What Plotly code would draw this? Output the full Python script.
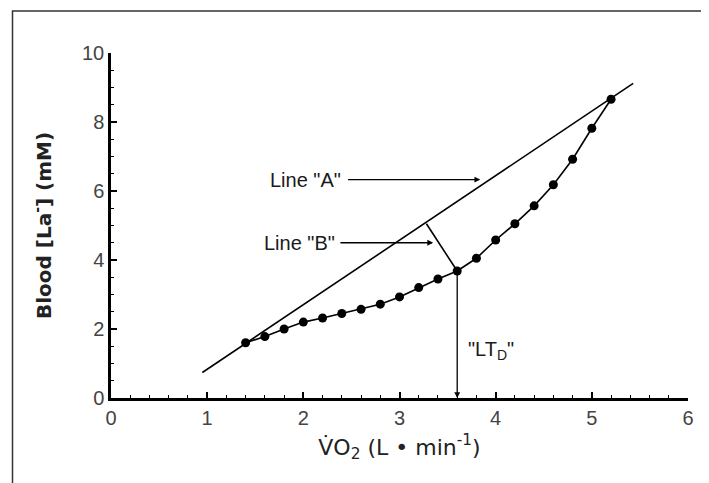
import plotly.graph_objects as go

# Data
vo2 = [1.4, 1.6, 1.8, 2.0, 2.2, 2.4, 2.6, 2.8, 3.0, 3.2, 3.4, 3.6, 3.8, 4.0, 4.2, 4.4, 4.6, 4.8, 5.0, 5.2]
lactate = [1.6, 1.78, 2.0, 2.2, 2.32, 2.45, 2.57, 2.72, 2.93, 3.2, 3.45, 3.68, 4.05, 4.58, 5.05, 5.57, 6.18, 6.92, 7.82, 8.66]
line_a_x = [0.95, 5.43]
line_a_y = [0.74, 9.12]
line_b_x = [3.28, 3.6]
line_b_y = [5.05, 3.68]
ltd_x = [3.6, 3.6]
ltd_y = [3.68, 0.0]
x_ticks = [0, 1, 2, 3, 4, 5, 6]
y_ticks = [0, 2, 4, 6, 8, 10]

SANS = "Liberation Sans"
WIDE = "DejaVu Sans"
NB = "\u00a0"

fig = go.Figure()
fig.add_trace(go.Scatter(x=line_a_x, y=line_a_y, mode="lines",
                         line=dict(color="black", width=1.6), showlegend=False))
fig.add_trace(go.Scatter(x=line_b_x, y=line_b_y, mode="lines",
                         line=dict(color="black", width=1.6), showlegend=False))
fig.add_trace(go.Scatter(x=vo2, y=lactate, mode="lines+markers",
                         line=dict(color="black", width=1.6),
                         marker=dict(color="black", size=9), showlegend=False))

label_font = dict(family=SANS, size=20, color="#1a1a1a")
ann = []
# LTd vertical arrow
ann.append(dict(x=ltd_x[1], y=ltd_y[1], ax=ltd_x[0], ay=ltd_y[0],
                xref="x", yref="y", axref="x", ayref="y", text="",
                showarrow=True, arrowhead=2, arrowsize=0.9, arrowwidth=1.3, arrowcolor="black"))
# Line A arrow
ann.append(dict(x=3.84, y=6.33, ax=2.45, ay=6.33, xref="x", yref="y", axref="x", ayref="y",
                text="", showarrow=True, arrowhead=2, arrowsize=0.9, arrowwidth=1.3, arrowcolor="black"))
ann.append(dict(x=2.02, y=6.33, xref="x", yref="y", text='Line "A"', showarrow=False,
                font=label_font))
# Line B arrow
ann.append(dict(x=3.35, y=4.5, ax=2.37, ay=4.5, xref="x", yref="y", axref="x", ayref="y",
                text="", showarrow=True, arrowhead=2, arrowsize=0.9, arrowwidth=1.3, arrowcolor="black"))
ann.append(dict(x=1.96, y=4.5, xref="x", yref="y", text='Line "B"', showarrow=False,
                font=label_font))
# LTd label
ann.append(dict(x=3.95, y=1.38, xref="x", yref="y", text='"LT<sub>D</sub>"', showarrow=False,
                font=label_font))

fig.update_layout(
    width=709, height=483,
    margin=dict(l=103, r=29, t=45, b=93),
    paper_bgcolor="white", plot_bgcolor="white",
    annotations=ann,
    shapes=[
        dict(type="path", xref="paper", yref="paper",
             path="M -0.1707 -0.3 L -0.1707 1.1217 L 1.031 1.1217 L 1.031 -0.3",
             line=dict(color="#333", width=1.5)),
    ],
    xaxis=dict(range=[0, 6], tickvals=x_ticks, ticktext=[str(v) for v in x_ticks],
               ticks="inside", ticklen=6, tickwidth=1.5, tickcolor="black",
               minor=dict(dtick=0.2, ticks="inside", ticklen=3, tickwidth=1.2, tickcolor="black"),
               showline=True, linecolor="black", linewidth=2.5, showgrid=False, zeroline=False,
               tickfont=dict(family=SANS, size=20, color="#444"),
               title=dict(text="V̇O<sub>2</sub>" + NB + "(L" + NB + "•" + NB + "min<sup>-1</sup>)",
                          standoff=12,
                          font=dict(family=WIDE, size=22, color="#222"))),
    yaxis=dict(range=[0, 10], tickvals=y_ticks, ticktext=[str(v) for v in y_ticks],
               ticks="inside", ticklen=6, tickwidth=1.5, tickcolor="black",
               minor=dict(dtick=0.5, ticks="inside", ticklen=3, tickwidth=1.2, tickcolor="black"),
               showline=True, linecolor="black", linewidth=2.5, showgrid=False, zeroline=False,
               tickfont=dict(family=SANS, size=20, color="#444"),
               title=dict(text="Blood [La<sup>-</sup>] (mM)", standoff=26,
                          font=dict(family=WIDE, size=20, color="#222", weight="bold"))),
)

fig.write_html("out.html")
